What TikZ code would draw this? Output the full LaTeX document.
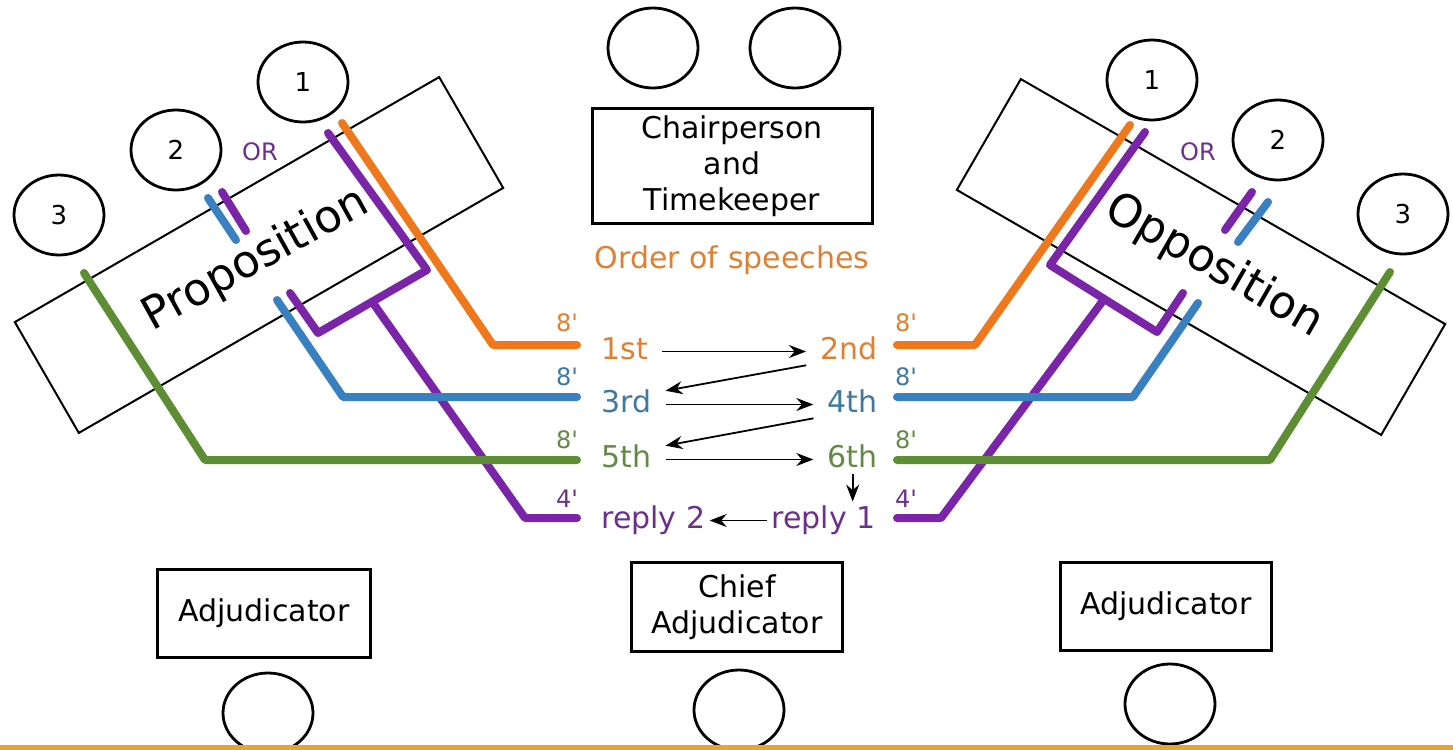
\documentclass[tikz,border=0pt]{standalone}
\usepackage{fontspec}
\setmainfont{DejaVu Sans}
\usepackage{tikz}
\usetikzlibrary{shapes.geometric}
\usetikzlibrary{arrows.meta}

\definecolor{spOrange}{RGB}{240,120,28}
\definecolor{spPurple}{RGB}{122,36,168}
\definecolor{spBlue}{RGB}{56,128,192}
\definecolor{spGreen}{RGB}{94,142,52}
\definecolor{txOrange}{RGB}{222,128,50}
\definecolor{txPurple}{RGB}{108,48,138}
\definecolor{txBlue}{RGB}{64,120,160}
\definecolor{txGreen}{RGB}{100,136,70}
\definecolor{barGold}{RGB}{232,165,40}

\begin{document}
\begin{tikzpicture} [
    x=0.5pt, y=-0.5pt,
    every node/.style = {font=\fontsize{15}{18}\selectfont},
    seat/.style = {ellipse, draw, line width=1.4pt, minimum width=45pt, minimum height=40pt, inner sep=0pt, font=\fontsize{13}{15}\selectfont},
    desk/.style = {draw, line width=1.5pt, align=center},
    bench/.style = {draw, line width=1pt, minimum width=245pt, minimum height=64pt},
    benchname/.style = {inner sep=0pt, font=\fontsize{22.5}{26}\selectfont},
    speech/.style = {inner sep=2pt, text height=11pt, text depth=3.5pt},
    mins/.style = {font=\fontsize{12}{14}\selectfont, inner sep=0pt},
    talk/.style = {line width=4pt, line cap=round, line join=round},
    turn/.style = {-{Stealth[length=8.5pt,width=6.5pt]}, line width=0.9pt},
    hturn/.style = {turn, shorten <=5pt, shorten >=5pt}
]
    \useasboundingbox (0,0) rectangle (1453,750);

    % chair and timekeeper
    \node[seat] (chair) at (653,48) {};
    \node[seat] (keeper) at (795,48) {};
    \node[desk, minimum width=140pt, minimum height=57.5pt] (chairbox) at (732,166) {Chairperson\\and\\Timekeeper};
    \node[anchor=base, text=txOrange] (order) at (732,268) {Order of speeches};

    % benches
    \node[bench, rotate=30] (prop) at (259,255) {};
    \node[bench, rotate=-30] (opp) at (1201,257) {};
    \node[benchname, rotate=29] (propname) at (256,260) {Proposition};
    \node[benchname, rotate=-30] (oppname) at (1214,266) {Opposition};

    \node[seat] (p1) at (303,82) {1};
    \node[seat] (p2) at (176,150) {2};
    \node[seat] (p3) at (59,215) {3};
    \node[seat] (o1) at (1152,80) {1};
    \node[seat] (o2) at (1278,140) {2};
    \node[seat] (o3) at (1403,214) {3};
    \node[mins, text=txPurple] (orP) at (260,152) {OR};
    \node[mins, text=txPurple] (orO) at (1198,152) {OR};

    % proposition speakers
    \draw[talk, spOrange] (342,123) -- (493,345) -- (577,345);
    \draw[talk, spPurple] (328,133) -- (427,270) -- (318,333) -- (290,293);
    \draw[talk, spPurple] (373,303) -- (525,518) -- (577,518);
    \draw[talk, spPurple] (222,192) -- (246,231);
    \draw[talk, spBlue] (208,198) -- (236,240);
    \draw[talk, spBlue] (277,300) -- (343,397) -- (577,397);
    \draw[talk, spGreen] (84,273) -- (205,460) -- (577,460);

    % opposition speakers
    \draw[talk, spOrange] (1130,125) -- (975,345) -- (897,345);
    \draw[talk, spPurple] (1145,132) -- (1050,265) -- (1157,332) -- (1183,293);
    \draw[talk, spPurple] (1102,302) -- (941,518) -- (897,518);
    \draw[talk, spPurple] (1252,192) -- (1225,230);
    \draw[talk, spBlue] (1268,202) -- (1238,242);
    \draw[talk, spBlue] (1198,303) -- (1133,397) -- (897,397);
    \draw[talk, spGreen] (1390,272) -- (1270,460) -- (897,460);

    % order of speeches
    \node[speech, anchor=base west, text=txOrange] (s1) at (597,359) {1st};
    \node[speech, anchor=base east, text=txOrange] (s2) at (882,359) {2nd};
    \node[speech, anchor=base west, text=txBlue] (s3) at (597,412) {3rd};
    \node[speech, anchor=base east, text=txBlue] (s4) at (882,412) {4th};
    \node[speech, anchor=base west, text=txGreen] (s5) at (597,467) {5th};
    \node[speech, anchor=base east, text=txGreen] (s6) at (882,467) {6th};
    \node[speech, anchor=base west, text=txPurple] (r2) at (597,528) {reply 2};
    \node[speech, anchor=base east, text=txPurple] (r1) at (880,528) {reply 1};

    \node[mins, text=txOrange] (t1) at (567,323) {8\textquotesingle};
    \node[mins, text=txOrange] (t2) at (906,323) {8\textquotesingle};
    \node[mins, text=txBlue] (t3) at (567,377) {8\textquotesingle};
    \node[mins, text=txBlue] (t4) at (906,377) {8\textquotesingle};
    \node[mins, text=txGreen] (t5) at (567,440) {8\textquotesingle};
    \node[mins, text=txGreen] (t6) at (906,440) {8\textquotesingle};
    \node[mins, text=txPurple] (t7) at (567,499) {4\textquotesingle};
    \node[mins, text=txPurple] (t8) at (906,499) {4\textquotesingle};

    \draw[hturn] (s1) -- (s2);
    \draw[hturn] ([yshift=-6pt]s2.west) -- ([yshift=6pt]s3.east);
    \draw[hturn] (s3) -- (s4);
    \draw[hturn] ([yshift=-6pt]s4.west) -- ([yshift=6pt]s5.east);
    \draw[hturn] (s5) -- (s6);
    \draw[turn] ([yshift=2pt]s6.south) -- (s6.south |- r1.north);
    \draw[turn] (r1.west) -- (r2.east);

    % adjudicators
    \node[desk, minimum width=106.5pt, minimum height=44pt] (adjP) at (264,613) {Adjudicator};
    \node[desk, minimum width=105.5pt, minimum height=44.5pt] (chief) at (737,607) {Chief\\Adjudicator};
    \node[desk, minimum width=105.5pt, minimum height=44pt] (adjO) at (1166,606) {Adjudicator};
    \node[seat] (sadjP) at (268,713) {};
    \node[seat] (schief) at (739,710) {};
    \node[seat] (sadjO) at (1170,704) {};

    \fill[barGold] (0,745) rectangle (1453,750);
\end{tikzpicture}
\end{document}
